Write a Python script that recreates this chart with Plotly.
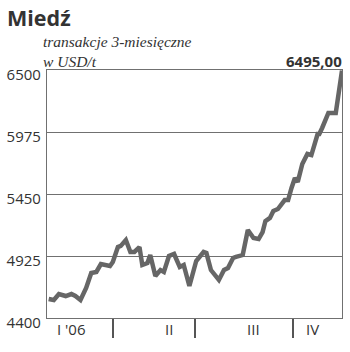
import plotly.graph_objects as go

# week index (0..52 across the year) and 3-month copper price, USD/t
weeks = [0.3, 1.2, 2.1, 3.3, 4.3, 5.0, 5.9, 6.9, 7.8, 8.7, 9.5, 11.1, 11.6,
         12.5, 13.0, 13.9, 14.7, 15.4, 16.3, 16.8, 17.7, 18.2, 19.1, 20.0,
         20.6, 21.5, 22.4, 23.4, 24.1, 25.1, 26.3, 27.6, 28.1, 28.9, 30.3,
         31.2, 31.9, 32.8, 33.3, 34.5, 35.4, 36.4, 37.3, 38.0, 38.5, 39.3,
         39.9, 40.7, 41.9, 42.5, 43.1, 43.7, 44.2, 45.0, 45.9, 46.6, 47.7,
         48.0, 48.5, 49.6, 50.9, 51.5, 52.0]
prices = [4561, 4552, 4603, 4586, 4603, 4586, 4552, 4654, 4781, 4790, 4857,
          4840, 4874, 5001, 5010, 5060, 4959, 4959, 5001, 4849, 4866, 4933,
          4756, 4806, 4790, 4925, 4942, 4832, 4849, 4671, 4883, 4959, 4950,
          4806, 4722, 4806, 4823, 4908, 4917, 4933, 5145, 5077, 5069, 5128,
          5221, 5247, 5306, 5323, 5399, 5399, 5501, 5586, 5552, 5704, 5789,
          5780, 5958, 5958, 6009, 6136, 6136, 6305, 6495]

y_ticks = [4400, 4925, 5450, 5975, 6500]
quarter_bounds = [11.6, 26.0, 43.3]
quarter_label_pos = [4.3, 21.5, 36.4, 46.8]
quarter_labels = ["I '06", "II", "III", "IV"]
title = "Miedź"
subtitle = ["transakcje 3-miesięczne", "w USD/t"]
last_label = "6495,00"

line_col = "#666666"
axis_col = "#707070"
text_col = "#333333"
sans = "Open Sans, Lato, sans-serif"

fig = go.Figure()
fig.add_trace(go.Scatter(x=weeks, y=prices, mode="lines",
                         line=dict(color=line_col, width=4.5),
                         hoverinfo="skip", showlegend=False))

fig.update_layout(
    width=350, height=352,
    margin=dict(l=43, r=7, t=70, b=34),
    paper_bgcolor="white", plot_bgcolor="white",
    xaxis=dict(range=[0, 52], showgrid=False, zeroline=False,
               showline=True, linecolor=axis_col, linewidth=1.2, mirror=True,
               ticks="outside", ticklen=19, tickwidth=1.5, tickcolor="#555",
               tickvals=quarter_bounds, showticklabels=False, fixedrange=True),
    yaxis=dict(range=[4400, 6500], tickvals=y_ticks,
               ticktext=[str(v) for v in y_ticks],
               showgrid=True, gridcolor=axis_col, gridwidth=1,
               zeroline=False, showline=True, linecolor=axis_col,
               linewidth=1.2, mirror=True, ticks="",
               tickfont=dict(family=sans, size=15, color=text_col),
               ticklabelshift=5, ticklabelstandoff=2, fixedrange=True),
)

annotations = []
for pos, lab in zip(quarter_label_pos, quarter_labels):
    annotations.append(dict(x=pos, y=0, xref="x", yref="paper", yshift=-11,
                            text=lab, showarrow=False, xanchor="center",
                            yanchor="middle",
                            font=dict(family=sans, size=15, color=text_col)))
annotations.append(dict(x=0, y=1, xref="paper", yref="paper", xshift=-42,
                        yshift=69, text="<b>" + title + "</b>",
                        showarrow=False, xanchor="left", yanchor="top",
                        font=dict(family=sans, size=21.5, color=text_col)))
annotations.append(dict(x=0, y=1, xref="paper", yref="paper", yshift=-2,
                        xshift=-6,
                        text="<i>" + subtitle[0] + "<br>" + subtitle[1] + "</i>",
                        showarrow=False, xanchor="left", yanchor="bottom",
                        align="left",
                        font=dict(family="Liberation Serif, serif", size=15.5,
                                  color=text_col)))
annotations.append(dict(x=weeks[-1], y=1, xref="x", yref="paper", yshift=-3,
                        xshift=2,
                        text="<b>" + last_label + "</b>",
                        showarrow=False, xanchor="right", yanchor="bottom",
                        font=dict(family=sans, size=15, color=text_col)))
fig.update_layout(annotations=annotations)

fig.write_html("out.html")
